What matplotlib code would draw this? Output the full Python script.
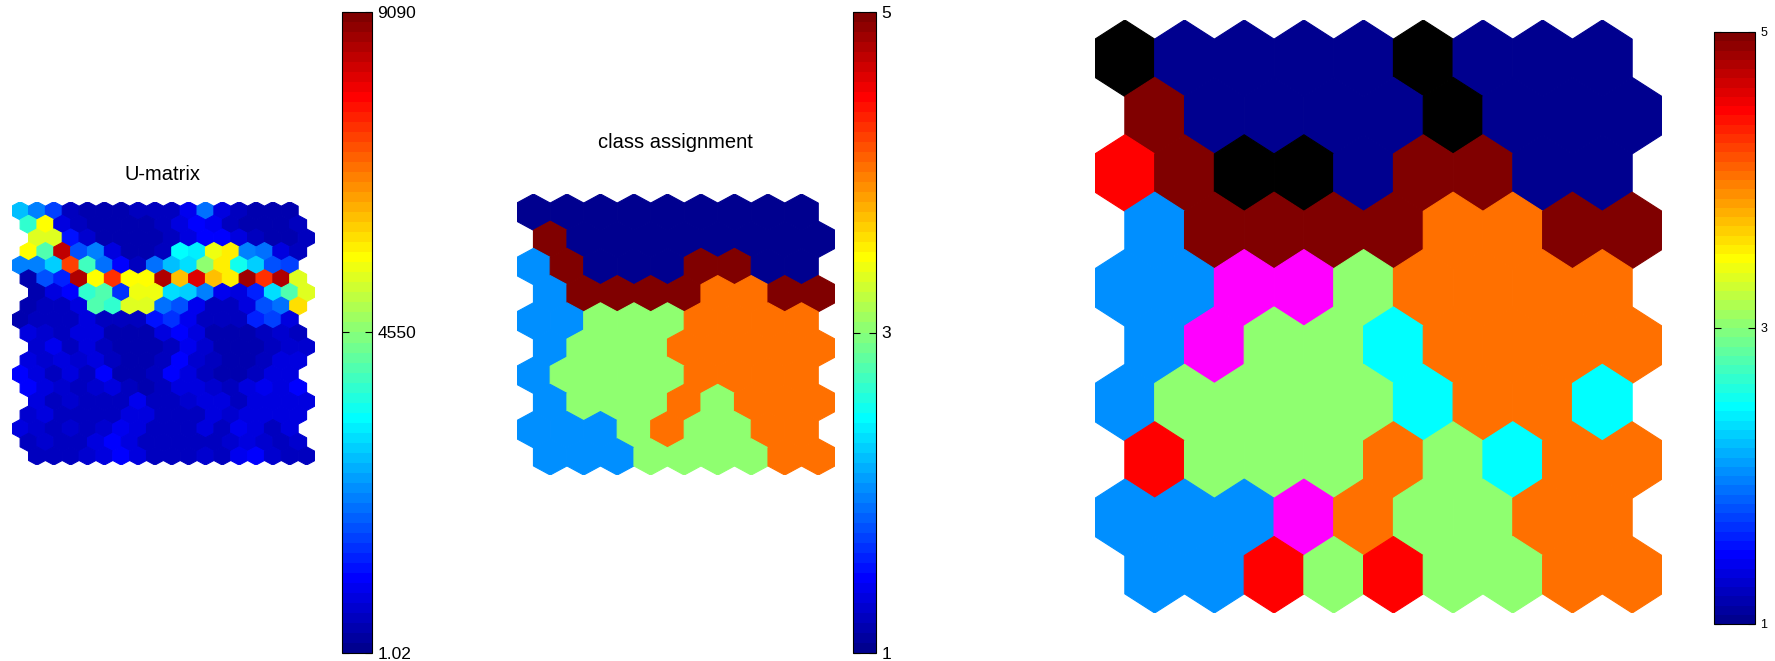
import numpy as np
import matplotlib
matplotlib.use("Agg")
import matplotlib.pyplot as plt
from matplotlib.collections import PatchCollection
from matplotlib.patches import RegularPolygon
from matplotlib.colors import Normalize, ListedColormap
from matplotlib.cm import ScalarMappable

plt.rcParams["font.family"] = ["Liberation Sans", "DejaVu Sans"]

# U-matrix of the 10x9 map (19 x 17 cells)
umatrix = [
    [2730, 2270, 1640, 550, 360, 360, 360, 450, 450, 550, 910, 2000, 820, 450, 360, 360, 360],
    [3820, 5640, 730, 550, 360, 360, 360, 360, 450, 730, 1090, 910, 550, 360, 360, 360, 450],
    [5270, 5270, 1270, 640, 360, 360, 360, 360, 450, 730, 1090, 1090, 730, 450, 360, 360, 450],
    [5640, 4000, 8450, 1820, 2180, 730, 360, 360, 550, 3270, 3180, 5450, 5820, 2180, 2000, 730, 450],
    [2270, 2270, 2910, 7270, 3910, 2000, 1090, 550, 2000, 2730, 3000, 4550, 5730, 3450, 2910, 1820, 1640],
    [360, 1820, 1360, 8640, 5640, 7450, 5640, 5640, 8640, 6180, 8180, 6180, 5730, 8730, 7450, 8640, 5270],
    [360, 730, 1090, 3820, 4090, 1450, 5450, 5450, 3000, 2910, 2180, 910, 730, 1360, 3090, 4090, 5270],
    [360, 450, 550, 730, 4000, 3820, 5270, 5270, 2000, 1820, 910, 550, 550, 730, 1820, 2000, 5910],
    [360, 450, 450, 550, 730, 550, 450, 550, 1270, 1450, 910, 550, 450, 550, 1360, 1640, 730],
    [730, 640, 450, 820, 730, 360, 360, 360, 730, 1000, 730, 360, 360, 360, 550, 640, 550],
    [640, 910, 450, 730, 450, 360, 360, 360, 450, 910, 640, 360, 360, 360, 450, 640, 640],
    [730, 640, 820, 640, 820, 450, 360, 360, 550, 1000, 640, 450, 360, 360, 450, 730, 820],
    [1000, 730, 550, 820, 450, 1000, 360, 360, 450, 1090, 730, 450, 360, 360, 450, 730, 820],
    [1000, 730, 640, 550, 640, 820, 450, 360, 450, 820, 820, 640, 450, 730, 910, 820, 1090],
    [730, 550, 640, 450, 450, 550, 910, 450, 450, 640, 820, 730, 550, 820, 730, 820, 730],
    [640, 730, 550, 450, 550, 450, 730, 820, 550, 450, 550, 820, 640, 730, 820, 730, 820],
    [820, 640, 550, 640, 450, 640, 910, 730, 550, 450, 450, 730, 550, 910, 730, 550, 730],
    [550, 640, 450, 550, 820, 1000, 730, 550, 450, 550, 450, 550, 640, 820, 640, 550, 640],
    [550, 450, 550, 640, 730, 1090, 730, 450, 450, 550, 640, 550, 910, 1000, 640, 550, 550],
]
umat_range = [1.02, 9090]
umat_ticks = [1.02, 4550, 9090]
umat_ticklabels = ["1.02", "4550", "9090"]

# class of each map unit (1..5)
class_map = [
    [1, 1, 1, 1, 1, 1, 1, 1, 1],
    [5, 1, 1, 1, 1, 1, 1, 1, 1],
    [2, 5, 1, 1, 1, 5, 5, 1, 1],
    [2, 5, 5, 5, 5, 4, 4, 5, 5],
    [2, 2, 3, 3, 3, 4, 4, 4, 4],
    [2, 3, 3, 3, 4, 4, 4, 4, 4],
    [2, 3, 3, 3, 3, 4, 4, 4, 4],
    [2, 3, 3, 3, 4, 3, 4, 4, 4],
    [2, 2, 2, 3, 4, 3, 3, 4, 4],
    [2, 2, 2, 3, 3, 3, 3, 4, 4],
]

# relabelled map: 1..5 classes, 0 = empty, 6/7/8 = flagged units
relabel_map = [
    [0, 1, 1, 1, 1, 0, 1, 1, 1],
    [5, 1, 1, 1, 1, 0, 1, 1, 1],
    [8, 5, 0, 0, 1, 5, 5, 1, 1],
    [2, 5, 5, 5, 5, 4, 4, 5, 5],
    [2, 2, 6, 6, 3, 4, 4, 4, 4],
    [2, 6, 3, 3, 7, 4, 4, 4, 4],
    [2, 3, 3, 3, 3, 7, 4, 4, 7],
    [8, 3, 3, 3, 4, 3, 7, 4, 4],
    [2, 2, 2, 6, 4, 3, 3, 4, 4],
    [2, 2, 8, 3, 8, 3, 3, 4, 4],
]
flag_colors = {0: "black", 6: "magenta", 7: "cyan", 8: "red"}
class_range = [1, 5]
class_ticks = [1, 3, 5]


def matlab_jet(m=64):
    # same construction as MATLAB's jet(m)
    n = int(np.ceil(m / 4))
    u = np.concatenate([np.arange(1, n + 1) / n, np.ones(n - 1), np.arange(n, 0, -1) / n])
    g = int(np.ceil(n / 2)) - (m % 4 == 1) + np.arange(1, len(u) + 1)
    r, b = g + n, g - n
    rgb = np.zeros((m, 3))
    for ch, idx in enumerate([r, g, b]):
        keep = (idx >= 1) & (idx <= m)
        rgb[idx[keep] - 1, ch] = u[keep]
    return ListedColormap(rgb)


jet = matlab_jet(64)
R = 1 / np.sqrt(3)
DY = 1.5 * R
W, H = 1775, 661


def box(x0, y0, x1, y1):
    return [x0 / W, 1 - y1 / H, (x1 - x0) / W, (y1 - y0) / H]


def hexes(nrows, ncols, offsets):
    out = []
    for r in range(nrows):
        off = offsets[r % len(offsets)]
        for c in range(ncols):
            out.append(RegularPolygon((c + off, -r * DY), 6, radius=R, orientation=0))
    return out


def hex_axes(ax, nrows, ncols, offsets):
    ax.set_xlim(-0.5, ncols - 0.5 + max(offsets))
    ax.set_ylim(-(nrows - 1) * DY - R, R)
    ax.set_axis_off()


def style_cbar(cb, labels, size):
    cb.set_ticklabels(labels)
    cb.ax.tick_params(direction="in", left=True, right=True, length=5,
                      width=0.8, labelsize=size, pad=4)
    cb.outline.set_linewidth(0.8)


fig = plt.figure(figsize=(W / 100, H / 100), dpi=100)

# U-matrix
ax1 = fig.add_axes(box(11.7, 201.7, 315, 465))
off1 = [0, 0.5, 1, 0.5]
pc1 = PatchCollection(hexes(19, 17, off1), cmap=jet, edgecolor="face", linewidth=0.8)
pc1.set_array(np.asarray(umatrix, dtype=float).ravel())
pc1.set_clim(*umat_range)
ax1.add_collection(pc1)
hex_axes(ax1, 19, 17, off1)
fig.text(162 / W, 1 - 180 / H, "U-matrix", ha="center", va="baseline", fontsize=14.5)
cax1 = fig.add_axes(box(342, 12, 372, 653))
cb1 = fig.colorbar(pc1, cax=cax1, ticks=umat_ticks)
style_cbar(cb1, umat_ticklabels, 12.5)

# class assignment
ax2 = fig.add_axes(box(516.7, 194, 835, 475))
off2 = [0, 0.5]
pc2 = PatchCollection(hexes(10, 9, off2), cmap=jet, edgecolor="face", linewidth=0.8)
pc2.set_array(np.asarray(class_map, dtype=float).ravel())
pc2.set_clim(*class_range)
ax2.add_collection(pc2)
hex_axes(ax2, 10, 9, off2)
fig.text(675 / W, 1 - 148 / H, "class assignment", ha="center", va="baseline", fontsize=14.5)
cax2 = fig.add_axes(box(853, 12, 876, 653))
cb2 = fig.colorbar(pc2, cax=cax2, ticks=class_ticks)
style_cbar(cb2, [str(t) for t in class_ticks], 12.5)

# relabelled map with flagged units
ax3 = fig.add_axes(box(1095, 20, 1662, 613))
norm3 = Normalize(*class_range)
codes = np.asarray(relabel_map).ravel()
faces = [flag_colors[k] if k in flag_colors else jet(norm3(k)) for k in codes]
pc3 = PatchCollection(hexes(10, 9, off2), facecolors=faces, edgecolors=faces, linewidth=0.8)
ax3.add_collection(pc3)
hex_axes(ax3, 10, 9, off2)
cax3 = fig.add_axes(box(1714, 32, 1755, 624))
cb3 = fig.colorbar(ScalarMappable(norm=norm3, cmap=jet), cax=cax3, ticks=class_ticks)
style_cbar(cb3, [str(t) for t in class_ticks], 9)

fig.savefig("out.png", dpi=100)
